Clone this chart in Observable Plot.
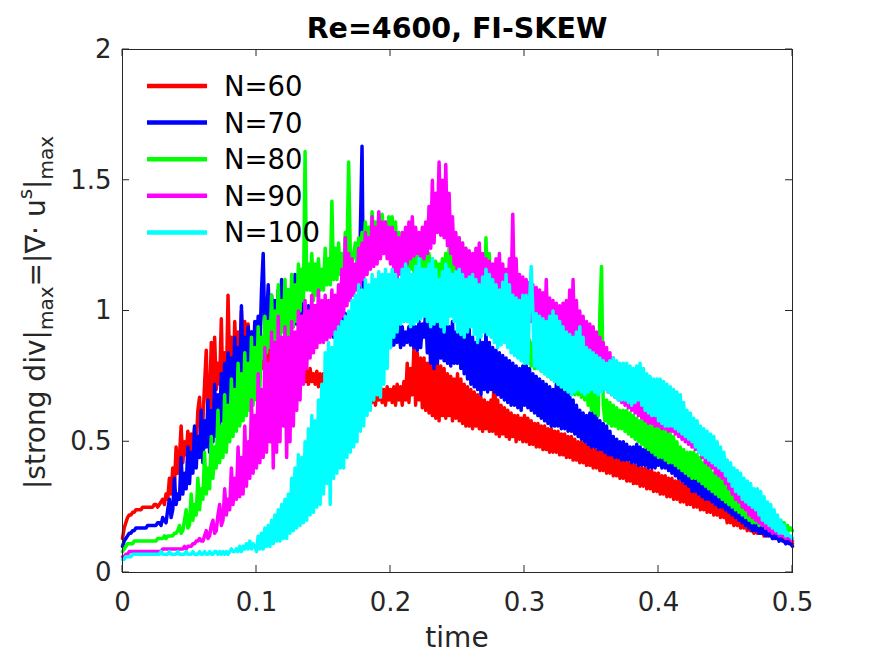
<!DOCTYPE html>
<html>
<head>
<meta charset="utf-8">
<script src="https://cdn.jsdelivr.net/npm/d3@7"></script>
<script src="https://cdn.jsdelivr.net/npm/@observablehq/plot@0.6"></script>
<style>
  body { margin: 0; background: #fff; }
  #chart svg { display: block; }
</style>
</head>
<body>
<div id="chart"></div>
<script>
const timeStep = 0.00125;
const seriesNames = ["N=60", "N=70", "N=80", "N=90", "N=100"];
const seriesColors = ["#ff0000", "#0000ff", "#00ff00", "#ff00ff", "#00ffff"];
const xTicks = [0, 0.1, 0.2, 0.3, 0.4, 0.5];
const yTicks = [0, 0.5, 1, 1.5, 2];
const titleText = "Re=4600, FI-SKEW";
const xLabel = "time";

const n60 = [
  13,17,19,21,22,22,23,23,24,24,24,24,25,25,25,25,25,25,25,26,
  26,25,26,27,28,26,30,28,36,30,40,33,48,38,44,56,42,50,45,54,
  44,53,46,55,48,62,67,50,58,72,85,60,64,88,62,90,70,80,72,97,
  66,84,72,106,78,90,70,96,80,92,82,100,84,96,80,95,86,92,82,90,
  93,80,88,78,90,76,84,78,86,75,84,77,80,74,82,76,80,74,82,75,
  80,74,78,73,79,72,80,74,78,73,77,72,78,73,76,72,77,71,76,72,
  76,71,75,70,74,69,75,68,73,67,72,68,71,66,72,67,70,66,71,65,
  70,65,72,66,70,64,71,66,70,65,72,64,70,66,71,65,70,64,71,66,
  70,65,71,64,72,66,71,64,73,66,80,65,78,68,86,64,84,66,82,63,
  82,62,80,61,85,60,83,59,80,58,79,60,78,59,76,60,75,58,74,59,
  76,58,74,57,72,56,71,56,70,55,69,56,68,55,67,54,66,55,65,54,
  66,54,81,53,66,52,64,53,63,52,62,51,61,52,60,50,60,51,59,50,
  60,50,59,49,58,49,57,48,57,48,56,47,56,47,55,46,55,46,54,46,
  54,45,53,45,53,44,52,44,52,43,51,43,50,42,50,42,49,41,49,41,
  48,40,47,40,47,39,46,39,46,38,45,38,45,37,44,37,44,36,43,36,
  43,35,42,35,42,34,41,34,41,33,40,33,40,32,39,32,39,31,38,31,
  38,30,37,30,37,29,36,29,36,28,35,28,35,27,34,27,34,26,33,26,
  33,25,32,25,31,24,30,24,29,23,29,23,28,22,27,22,26,21,25,21,
  24,19,24,19,23,18,22,18,21,17,20,17,19,16,18,16,17,15,17,15,
  16,15,16,14,15,14,15,14,14,13,14,13,13,13,13,12,13,12,12,12,11
];
const n70 = [
  10,12,13,14,15,15,16,16,17,17,17,17,17,17,17,18,18,18,18,18,
  18,19,19,18,21,20,19,24,28,21,24,36,26,30,28,44,30,38,32,48,
  34,46,38,56,40,52,44,62,42,58,48,66,46,62,50,72,52,68,56,76,
  58,80,62,84,64,82,68,90,70,86,72,102,74,90,78,94,80,92,82,96,
  84,98,86,108,122,90,96,110,92,106,94,104,92,108,94,112,96,106,95,108,
  92,100,94,114,95,108,92,104,93,100,94,102,93,100,94,102,92,100,94,99,
  92,100,91,98,92,99,90,98,91,97,92,98,90,99,91,98,92,97,91,98,
  92,96,130,163,92,98,88,96,89,95,86,94,87,95,86,94,88,93,87,92,
  86,93,87,94,88,95,86,94,87,92,88,94,87,95,86,94,85,96,86,95,
  90,100,84,98,80,97,78,103,80,100,82,96,81,98,80,94,79,96,80,92,
  80,98,78,94,76,92,74,93,72,90,71,88,70,90,68,88,70,92,69,88,
  70,86,69,85,68,84,67,83,66,82,65,81,64,80,64,79,63,78,62,79,
  64,80,63,78,62,76,61,75,60,74,59,73,58,72,57,71,56,70,56,72,
  56,74,55,72,55,70,54,68,54,66,53,64,52,62,51,61,50,60,49,61,
  48,62,48,60,47,58,47,57,46,56,45,54,45,52,44,51,44,50,43,50,
  43,49,43,48,42,48,42,49,41,48,41,47,41,47,40,47,40,46,40,46,
  41,50,40,49,40,48,39,47,38,46,37,45,36,44,35,43,34,42,33,41,
  31,38,31,37,30,36,29,35,28,34,28,34,27,33,26,32,25,31,25,30,
  24,29,23,28,22,27,21,26,20,24,19,23,18,22,17,21,16,20,16,19,
  15,18,15,17,14,16,14,15,13,15,13,14,12,13,12,12,11,12,11,11,10
];
const n80 = [
  8,9,10,11,11,11,11,12,12,12,12,12,12,12,12,12,12,12,12,12,
  12,13,13,13,13,14,13,14,14,14,14,15,15,16,18,15,16,20,24,17,
  18,30,20,26,22,36,24,32,28,46,30,40,32,52,36,48,40,62,42,56,
  44,68,46,64,50,74,52,70,54,80,56,76,58,84,60,80,62,90,64,86,
  66,94,70,90,82,98,84,96,86,106,85,100,88,110,87,104,92,112,90,108,
  90,114,94,110,96,118,100,116,104,161,108,118,108,122,104,118,106,120,108,116,
  108,124,110,120,110,142,112,124,112,126,114,122,114,130,120,157,122,118,122,126,
  118,128,120,130,122,134,124,132,126,138,128,134,130,136,128,137,128,134,126,136,
  124,136,122,134,120,130,119,128,118,126,117,125,116,124,115,123,114,122,113,124,
  112,124,113,122,114,120,112,119,110,118,111,120,112,122,113,124,114,126,112,124,
  110,128,109,126,108,124,107,122,106,120,105,119,104,118,103,120,102,128,101,122,
  100,116,98,114,96,112,94,109,92,106,90,102,88,98,86,95,84,92,82,91,
  80,90,80,89,79,88,78,87,78,86,77,85,76,84,75,83,74,82,73,81,
  72,80,71,79,70,78,70,77,69,76,68,75,68,74,67,73,66,72,64,71,
  62,70,61,68,60,100,117,64,58,66,57,65,56,64,56,63,55,62,55,62,
  54,62,53,61,52,60,51,59,50,58,49,58,48,57,47,56,46,56,45,56,
  44,56,44,55,43,54,42,53,42,52,41,50,40,48,39,47,38,46,37,46,
  36,46,36,45,35,44,34,42,33,41,32,40,31,38,30,37,29,36,28,35,
  27,34,26,32,25,31,24,30,23,29,22,28,21,28,20,27,19,26,19,26,
  18,25,18,24,17,23,17,22,16,22,16,21,16,20,16,19,16,18,16,17,16
];
const n90 = [
  6,6,7,7,8,8,8,8,8,8,8,8,8,8,8,8,8,8,8,8,
  8,8,8,8,9,9,9,9,9,9,9,9,9,9,9,9,9,10,9,10,
  10,10,11,11,12,12,13,12,12,14,16,13,14,18,20,15,16,22,26,18,
  20,32,22,28,24,40,26,36,28,48,29,44,30,56,33,50,36,66,38,60,
  40,76,42,70,44,86,46,80,50,92,40,88,46,98,50,90,56,94,44,90,
  50,96,56,92,62,100,66,98,72,104,78,100,82,106,84,102,86,108,88,104,
  88,106,89,104,90,108,91,106,92,110,95,116,98,128,102,122,104,120,106,118,
  108,124,110,126,112,130,114,128,116,136,117,132,118,138,120,134,122,134,120,132,
  118,132,115,130,112,128,114,130,116,132,118,134,120,136,121,132,122,130,121,132,
  120,134,122,140,124,150,126,145,130,157,129,150,128,156,125,145,122,136,118,130,
  112,128,110,126,108,124,107,123,106,122,108,124,110,126,107,122,104,120,103,119,
  102,118,103,120,104,122,102,118,100,116,103,120,106,137,103,120,100,114,99,113,
  98,112,97,111,96,110,94,109,92,108,91,107,90,112,89,105,88,104,87,103,
  86,102,87,103,88,104,87,108,86,112,85,104,84,100,82,98,80,96,78,95,
  76,94,74,92,72,90,71,88,70,86,69,84,68,82,67,80,66,78,65,77,
  64,76,63,74,62,72,61,71,60,70,59,69,58,68,57,67,57,66,56,66,
  56,66,55,65,55,64,54,63,54,62,53,61,52,60,51,58,50,56,49,55,
  48,54,47,53,46,52,44,51,42,50,41,49,40,48,38,46,37,44,36,42,
  34,40,32,39,30,38,28,37,27,36,25,34,24,32,22,30,21,28,20,27,
  19,26,18,24,17,22,16,20,15,19,15,18,14,16,14,15,13,14,13,13,12
];
const n100 = [
  5,5,6,6,6,6,7,7,7,7,7,7,7,7,7,7,7,7,7,7,
  7,7,7,8,7,7,7,7,8,7,7,7,7,8,7,7,7,7,8,7,
  7,7,8,7,7,7,8,7,7,8,7,7,8,7,7,8,8,7,8,7,
  8,7,8,7,8,9,8,8,9,8,10,8,10,9,11,9,12,9,11,10,
  8,14,9,15,9,17,10,18,10,20,11,22,12,24,12,26,13,28,13,30,
  15,36,16,40,17,45,18,44,19,50,20,55,22,60,23,58,25,66,26,72,
  30,84,34,88,26,86,36,92,38,94,40,96,40,98,44,100,46,104,48,106,
  50,110,54,108,56,112,60,110,62,114,66,112,68,115,67,114,72,116,78,114,
  86,116,90,114,92,112,95,116,96,118,96,116,94,114,95,117,96,120,97,116,
  98,116,96,118,94,120,95,116,96,112,94,115,92,118,95,116,98,114,96,115,
  92,116,91,114,90,112,92,113,94,114,91,112,88,110,90,113,92,116,91,114,
  90,112,88,110,86,108,87,111,88,114,86,110,84,106,83,105,82,104,81,106,
  80,106,80,103,117,100,79,99,78,98,77,97,76,96,75,98,74,100,73,98,
  72,96,71,94,70,92,69,91,68,90,69,92,70,94,69,90,68,86,69,85,
  70,84,69,83,68,82,69,81,70,80,69,81,68,82,67,81,66,80,66,80,
  66,80,65,79,64,78,65,79,66,80,64,78,62,76,61,75,60,74,60,74,
  58,74,57,73,56,72,56,71,56,70,55,69,54,68,53,65,52,62,51,61,
  50,59,48,58,46,56,45,55,44,54,43,53,42,52,41,50,40,48,39,46,
  37,43,35,42,33,40,31,39,30,38,28,36,27,35,26,34,25,32,24,32,
  22,31,20,29,19,27,18,26,17,24,16,22,15,20,15,18,14,15,14,14,13
];

const seriesValues = [n60, n70, n80, n90, n100];
const rows = [];
seriesValues.forEach((arr, k) => {
  arr.forEach((v, i) => rows.push({ t: i * timeStep, value: v / 100, series: seriesNames[k] }));
});

// ---- layout ----
const W = 875, H = 656;
const mL = 122, mR = 83, mT = 49, mB = 84;
const FONT = "DejaVu Sans, Liberation Sans, sans-serif";
const INK = "#262626";

const plot = Plot.plot({
  width: W, height: H,
  marginLeft: mL, marginRight: mR, marginTop: mT, marginBottom: mB,
  style: { fontFamily: FONT, fontSize: "26px", color: INK, background: "#ffffff", overflow: "visible" },
  x: { domain: [0, 0.5] },
  y: { domain: [0, 2] },
  color: { domain: seriesNames, range: seriesColors },
  marks: [
    Plot.line(rows, { x: "t", y: "value", z: "series", stroke: "series", strokeWidth: 3.5, strokeLinejoin: "round" }),
    Plot.frame({ stroke: INK, strokeWidth: 1 }),
    Plot.axisX(xTicks, { anchor: "bottom", tickSize: 0, tickPadding: 20, fontSize: 26, label: null, tickFormat: d => String(d) }),
    Plot.axisY(yTicks, { anchor: "left", tickSize: 0, tickPadding: 11, fontSize: 26, label: null, tickFormat: d => String(d) })
  ]
});

document.getElementById("chart").appendChild(plot);

const svg = d3.select(plot);
const sx = plot.scale("x"), sy = plot.scale("y");
const pLeft = mL, pRight = W - mR, pTop = mT, pBottom = H - mB;
const tickLen = 7;

// inward ticks on all four sides
const tg = svg.append("g").attr("stroke", INK).attr("stroke-width", 1);
xTicks.forEach(t => {
  const x = sx.apply(t);
  tg.append("line").attr("x1", x).attr("x2", x).attr("y1", pBottom).attr("y2", pBottom - tickLen);
  tg.append("line").attr("x1", x).attr("x2", x).attr("y1", pTop).attr("y2", pTop + tickLen);
});
yTicks.forEach(v => {
  const y = sy.apply(v);
  tg.append("line").attr("x1", pLeft).attr("x2", pLeft + tickLen).attr("y1", y).attr("y2", y);
  tg.append("line").attr("x1", pRight).attr("x2", pRight - tickLen).attr("y1", y).attr("y2", y);
});

// title
svg.append("text")
  .attr("x", (pLeft + pRight) / 2).attr("y", 38)
  .attr("text-anchor", "middle")
  .attr("font-family", FONT).attr("font-weight", "bold").attr("font-size", 28.5)
  .attr("fill", "#000")
  .text(titleText);

// x label
svg.append("text")
  .attr("x", (pLeft + pRight) / 2).attr("y", 647)
  .attr("text-anchor", "middle")
  .attr("font-family", FONT).attr("font-size", 28)
  .attr("fill", INK)
  .text(xLabel);

// y label with sub/superscripts
const yl = svg.append("text")
  .attr("transform", `translate(45,${(pTop + pBottom) / 2 + 2}) rotate(-90)`)
  .attr("text-anchor", "middle")
  .attr("font-family", FONT).attr("font-size", 28)
  .attr("fill", INK);
yl.append("tspan").text("|strong div|");
yl.append("tspan").attr("font-size", 20).attr("dy", 8).text("max");
yl.append("tspan").attr("dy", -8).text("=|\u2207\u00b7 u");
yl.append("tspan").attr("font-size", 20).attr("dy", -13).text("s");
yl.append("tspan").attr("dy", 13).text("|");
yl.append("tspan").attr("font-size", 20).attr("dy", 8).text("max");

// legend (inside the axes, upper left, no box)
const lg = svg.append("g");
seriesNames.forEach((name, k) => {
  const y = 86 + k * 36.6;
  lg.append("line").attr("x1", 147).attr("x2", 207).attr("y1", y).attr("y2", y)
    .attr("stroke", seriesColors[k]).attr("stroke-width", 4.5);
  lg.append("text").attr("x", 224).attr("y", y).attr("dy", "0.36em")
    .attr("text-anchor", "start")
    .attr("font-family", FONT).attr("font-size", 27.5).attr("fill", "#000")
    .text(name);
});
</script>
</body>
</html>
